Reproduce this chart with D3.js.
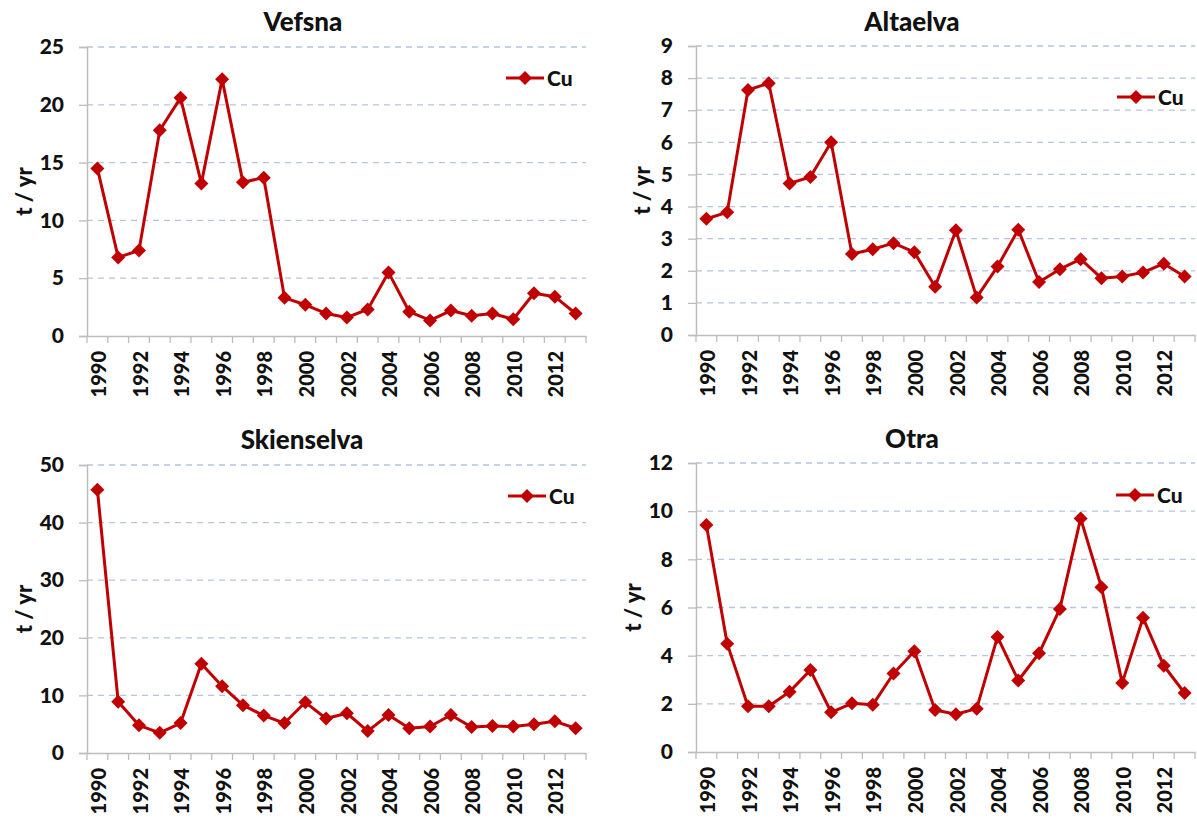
<!DOCTYPE html>
<html>
<head>
<meta charset="utf-8">
<script src="https://cdn.jsdelivr.net/npm/d3@7"></script>
<style>
  body { margin: 0; background: #fff; }
  text { font-family: Lato, "Open Sans", sans-serif; font-weight: 900; fill: #111; }
</style>
</head>
<body>
<svg id="chart" width="1197" height="821"></svg>
<script>
// Data (Cu transport, t / yr)
const years = [1990, 1991, 1992, 1993, 1994, 1995, 1996, 1997, 1998, 1999, 2000, 2001,
               2002, 2003, 2004, 2005, 2006, 2007, 2008, 2009, 2010, 2011, 2012, 2013];
const yearLabels = [1990, 1992, 1994, 1996, 1998, 2000, 2002, 2004, 2006, 2008, 2010, 2012];

const vefsnaCu = [14.5, 6.8, 7.4, 17.8, 20.6, 13.2, 22.2, 13.3, 13.7, 3.3, 2.7, 1.95,
                  1.6, 2.3, 5.5, 2.1, 1.35, 2.2, 1.75, 1.95, 1.45, 3.7, 3.4, 1.95];
const altaelvaCu = [3.62, 3.82, 7.63, 7.84, 4.72, 4.92, 6.0, 2.52, 2.67, 2.86, 2.58, 1.5,
                    3.26, 1.17, 2.13, 3.28, 1.65, 2.05, 2.36, 1.77, 1.82, 1.95, 2.22, 1.82];
const skienselvaCu = [45.7, 8.9, 4.8, 3.5, 5.2, 15.5, 11.6, 8.3, 6.5, 5.2, 8.8, 6.0,
                      6.9, 3.8, 6.6, 4.3, 4.6, 6.6, 4.5, 4.7, 4.6, 5.0, 5.5, 4.3];
const otraCu = [9.43, 4.5, 1.9, 1.9, 2.5, 3.4, 1.65, 2.02, 1.96, 3.26, 4.18, 1.74,
                1.57, 1.8, 4.78, 2.97, 4.1, 5.94, 9.7, 6.84, 2.87, 5.57, 3.58, 2.45];

const vefsnaTicks = [0, 5, 10, 15, 20, 25];
const altaelvaTicks = [0, 1, 2, 3, 4, 5, 6, 7, 8, 9];
const skienselvaTicks = [0, 10, 20, 30, 40, 50];
const otraTicks = [0, 2, 4, 6, 8, 10, 12];

const seriesName = "Cu";
const yAxisTitle = "t / yr";

const svg = d3.select("#chart");

// Panels: plot box in page pixels
createPanel("Vefsna", vefsnaCu, vefsnaTicks,
    { left: 87, right: 586, top: 47, bottom: 336, titleX: 303, titleY: 31, yTitleX: 24, legendX: 506, legendY: 78 });
createPanel("Altaelva", altaelvaCu, altaelvaTicks,
    { left: 696, right: 1195, top: 46, bottom: 335, titleX: 912, titleY: 31, yTitleX: 642, legendX: 1117, legendY: 97 });
createPanel("Skienselva", skienselvaCu, skienselvaTicks,
    { left: 87, right: 586, top: 465, bottom: 753, titleX: 302, titleY: 449, yTitleX: 24, legendX: 508, legendY: 496 });
createPanel("Otra", otraCu, otraTicks,
    { left: 696, right: 1195, top: 463, bottom: 752, titleX: 912, titleY: 448, yTitleX: 633, legendX: 1116, legendY: 495 });

function diamond(r) {
    return "M0," + (-r) + "L" + r + ",0L0," + r + "L" + (-r) + ",0Z";
}

function createPanel(title, values, ticks, box) {
    const g = svg.append("g");

    const x = d3.scaleBand().domain(years).range([box.left, box.right]).paddingInner(0).paddingOuter(0);
    const y = d3.scaleLinear().domain([0, d3.max(ticks)]).range([box.bottom, box.top]);
    const cx = d => x(d) + x.bandwidth() / 2;

    // Dashed gridlines
    g.selectAll(".grid")
        .data(ticks.filter(t => t > 0))
        .enter().append("line")
        .attr("x1", box.left)
        .attr("x2", box.right)
        .attr("y1", d => y(d))
        .attr("y2", d => y(d))
        .attr("stroke", "#b7c4de")
        .attr("stroke-width", 1.3)
        .attr("stroke-dasharray", "6,5");

    // Y axis
    const yAxis = d3.axisLeft(y).tickValues(ticks).tickSize(8).tickPadding(15);
    const yg = g.append("g")
        .attr("transform", "translate(" + box.left + ",0)")
        .call(yAxis);
    yg.select(".domain").attr("stroke", "#bdbdbd").attr("stroke-width", 1.5);
    yg.selectAll(".tick line").attr("stroke", "#bdbdbd").attr("stroke-width", 1.3);
    yg.selectAll(".tick text").style("font-size", "21px").attr("fill", "#111");

    // X axis: ticks between categories, labels on every other year
    const xg = g.append("g")
        .attr("transform", "translate(0," + box.bottom + ")")
        .call(d3.axisBottom(x).tickValues([]).tickSizeOuter(0));
    xg.select(".domain").attr("stroke", "#bdbdbd").attr("stroke-width", 1.5);

    xg.selectAll(".xtick")
        .data(years.concat([null]))
        .enter().append("line")
        .attr("x1", (d, i) => box.left + i * x.bandwidth())
        .attr("x2", (d, i) => box.left + i * x.bandwidth())
        .attr("y1", 0)
        .attr("y2", 7)
        .attr("stroke", "#bdbdbd")
        .attr("stroke-width", 1.3);

    xg.selectAll(".xlabel")
        .data(yearLabels)
        .enter().append("text")
        .attr("transform", d => "translate(" + (cx(d) + 1) + ",15) rotate(-90)")
        .attr("dy", "0.38em")
        .attr("text-anchor", "end")
        .style("font-size", "20px")
        .attr("fill", "#111")
        .text(d => d);

    // Y axis title
    g.append("text")
        .attr("transform", "translate(" + box.yTitleX + "," + ((box.top + box.bottom) / 2) + ") rotate(-90)")
        .attr("dy", "0.35em")
        .attr("text-anchor", "middle")
        .style("font-size", "22px")
        .text(yAxisTitle);

    // Series line and markers
    const points = years.map((yr, i) => ({ year: yr, value: values[i] }));
    g.append("path")
        .datum(points)
        .attr("fill", "none")
        .attr("stroke", "#c00000")
        .attr("stroke-width", 3)
        .attr("stroke-linejoin", "round")
        .attr("d", d3.line().x(d => cx(d.year)).y(d => y(d.value)));

    g.selectAll(".marker")
        .data(points)
        .enter().append("path")
        .attr("transform", d => "translate(" + cx(d.year) + "," + y(d.value) + ")")
        .attr("d", diamond(7))
        .attr("fill", "#c00000");

    // Legend
    const lg = g.append("g").attr("transform", "translate(" + box.legendX + "," + box.legendY + ")");
    lg.append("line")
        .attr("x1", 0).attr("x2", 38)
        .attr("stroke", "#c00000")
        .attr("stroke-width", 3);
    lg.append("path")
        .attr("transform", "translate(19,0)")
        .attr("d", diamond(7))
        .attr("fill", "#c00000");
    lg.append("text")
        .attr("x", 41)
        .attr("dy", "0.36em")
        .style("font-size", "21px")
        .text(seriesName);

    // Title
    g.append("text")
        .attr("x", box.titleX)
        .attr("y", box.titleY)
        .attr("text-anchor", "middle")
        .style("font-size", "26px")
        .text(title);
}
</script>
</body>
</html>
